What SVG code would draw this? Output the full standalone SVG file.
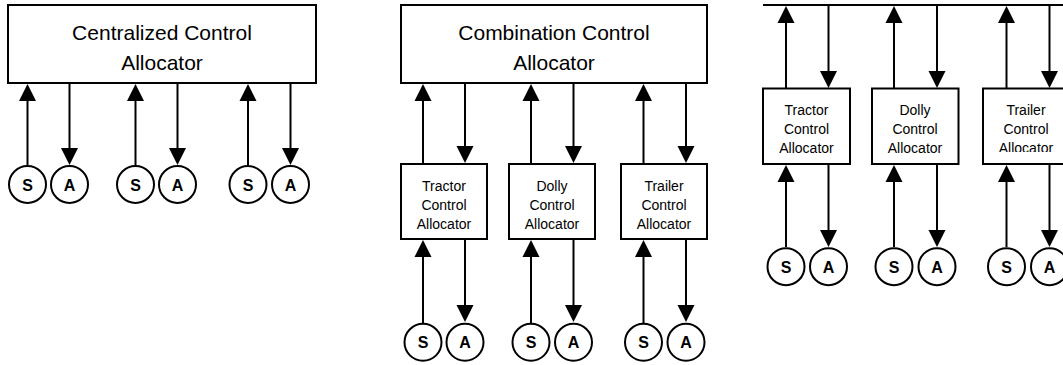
<svg xmlns="http://www.w3.org/2000/svg" width="1063" height="365" viewBox="0 0 1063 365">
  <style>
    .box { fill: #fff; stroke: #000; stroke-width: 2; }
    .io { fill: #fff; stroke: #000; stroke-width: 2; }
    .wire { stroke: #000; stroke-width: 2; fill: none; }
    .head { fill: #000; stroke: none; }
    .big { font-family: "Liberation Sans", Arial, sans-serif; font-size: 21px; text-anchor: middle; fill: #000; }
    .small { font-family: "Liberation Sans", Arial, sans-serif; font-size: 14px; text-anchor: middle; fill: #000; }
    .sa { font-family: "Liberation Sans", Arial, sans-serif; font-size: 16px; font-weight: bold; text-anchor: middle; fill: #000; }
  </style>
  <defs>
    <!-- arrowheads with the tip at the origin -->
    <path id="up" class="head" d="M0,0 L8.5,17 L-8.5,17 Z"/>
    <path id="down" class="head" d="M0,0 L8.5,-17 L-8.5,-17 Z"/>
    <clipPath id="trailerClip">
      <rect x="983" y="88" width="90" height="64"/>
    </clipPath>
  </defs>
  <rect width="1063" height="365" fill="#fff"/>

  <!-- Connectors -->
  <g id="connectors">
    <!-- centralized: sensors up, actuators down -->
    <g class="wire">
      <line x1="27.5" y1="165" x2="27.5" y2="98"/>
      <line x1="69.5" y1="83" x2="69.5" y2="150"/>
      <line x1="135.5" y1="165" x2="135.5" y2="98"/>
      <line x1="177.5" y1="83" x2="177.5" y2="150"/>
      <line x1="248" y1="165" x2="248" y2="98"/>
      <line x1="290.5" y1="83" x2="290.5" y2="150"/>
    </g>
    <use href="#up" x="27.5" y="84"/>
    <use href="#down" x="69.5" y="165"/>
    <use href="#up" x="135.5" y="84"/>
    <use href="#down" x="177.5" y="165"/>
    <use href="#up" x="248" y="84"/>
    <use href="#down" x="290.5" y="165"/>

    <!-- combination: upper level -->
    <g class="wire">
      <line x1="423" y1="164" x2="423" y2="98"/>
      <line x1="465" y1="83" x2="465" y2="150"/>
      <line x1="531" y1="164" x2="531" y2="98"/>
      <line x1="573.5" y1="83" x2="573.5" y2="150"/>
      <line x1="643.5" y1="164" x2="643.5" y2="98"/>
      <line x1="686" y1="83" x2="686" y2="150"/>
    </g>
    <use href="#up" x="423" y="84"/>
    <use href="#down" x="465" y="163"/>
    <use href="#up" x="531" y="84"/>
    <use href="#down" x="573.5" y="163"/>
    <use href="#up" x="643.5" y="84"/>
    <use href="#down" x="686" y="163"/>
    <!-- combination: lower level -->
    <g class="wire">
      <line x1="423" y1="323" x2="423" y2="254"/>
      <line x1="465" y1="239" x2="465" y2="308"/>
      <line x1="531" y1="323" x2="531" y2="254"/>
      <line x1="573.5" y1="239" x2="573.5" y2="308"/>
      <line x1="643.5" y1="323" x2="643.5" y2="254"/>
      <line x1="686" y1="239" x2="686" y2="308"/>
    </g>
    <use href="#up" x="423" y="240"/>
    <use href="#down" x="465" y="322"/>
    <use href="#up" x="531" y="240"/>
    <use href="#down" x="573.5" y="322"/>
    <use href="#up" x="643.5" y="240"/>
    <use href="#down" x="686" y="322"/>

    <!-- distributed: shared bus -->
    <g class="wire">
      <line x1="763" y1="5" x2="1063" y2="5"/>
      <line x1="786" y1="88" x2="786" y2="20"/>
      <line x1="828.5" y1="5" x2="828.5" y2="74"/>
      <line x1="894" y1="88" x2="894" y2="20"/>
      <line x1="937" y1="5" x2="937" y2="74"/>
      <line x1="1006.5" y1="88" x2="1006.5" y2="20"/>
      <line x1="1049.5" y1="5" x2="1049.5" y2="74"/>
    </g>
    <use href="#up" x="786" y="6"/>
    <use href="#down" x="828.5" y="88"/>
    <use href="#up" x="894" y="6"/>
    <use href="#down" x="937" y="88"/>
    <use href="#up" x="1006.5" y="6"/>
    <use href="#down" x="1049.5" y="88"/>
    <!-- distributed: lower level -->
    <g class="wire">
      <line x1="786" y1="247" x2="786" y2="180"/>
      <line x1="828.5" y1="164" x2="828.5" y2="232"/>
      <line x1="894" y1="247" x2="894" y2="180"/>
      <line x1="937" y1="164" x2="937" y2="232"/>
      <line x1="1006.5" y1="247" x2="1006.5" y2="180"/>
      <line x1="1049.5" y1="164" x2="1049.5" y2="232"/>
    </g>
    <use href="#up" x="786" y="165"/>
    <use href="#down" x="828.5" y="247"/>
    <use href="#up" x="894" y="165"/>
    <use href="#down" x="937" y="247"/>
    <use href="#up" x="1006.5" y="165"/>
    <use href="#down" x="1049.5" y="247"/>
  </g>

  <!-- Centralized layout -->
  <g id="centralized-allocator">
    <rect class="box" x="8" y="5" width="308" height="78"/>
    <text class="big" x="162" y="40">Centralized Control</text>
    <text class="big" x="162" y="70">Allocator</text>
  </g>
  <g id="c-s1"><circle class="io" cx="27.5" cy="184.5" r="18.5"/><text class="sa" x="27.5" y="190.5">S</text></g>
  <g id="c-a1"><circle class="io" cx="69.5" cy="184.5" r="18.5"/><text class="sa" x="69.5" y="190.5">A</text></g>
  <g id="c-s2"><circle class="io" cx="135.5" cy="184.5" r="18.5"/><text class="sa" x="135.5" y="190.5">S</text></g>
  <g id="c-a2"><circle class="io" cx="177.5" cy="184.5" r="18.5"/><text class="sa" x="177.5" y="190.5">A</text></g>
  <g id="c-s3"><circle class="io" cx="248" cy="184.5" r="18.5"/><text class="sa" x="248" y="190.5">S</text></g>
  <g id="c-a3"><circle class="io" cx="290.5" cy="184.5" r="18.5"/><text class="sa" x="290.5" y="190.5">A</text></g>

  <!-- Combination layout -->
  <g id="combination-allocator">
    <rect class="box" x="401" y="5" width="306" height="78"/>
    <text class="big" x="554" y="40">Combination Control</text>
    <text class="big" x="554" y="70">Allocator</text>
  </g>
  <g id="m-tractor">
    <rect class="box" x="401" y="164" width="86" height="75"/>
    <text class="small" x="444" y="191">Tractor</text>
    <text class="small" x="444" y="210">Control</text>
    <text class="small" x="444" y="229">Allocator</text>
  </g>
  <g id="m-dolly">
    <rect class="box" x="509" y="164" width="86" height="75"/>
    <text class="small" x="552" y="191">Dolly</text>
    <text class="small" x="552" y="210">Control</text>
    <text class="small" x="552" y="229">Allocator</text>
  </g>
  <g id="m-trailer">
    <rect class="box" x="621" y="164" width="86" height="75"/>
    <text class="small" x="664" y="191">Trailer</text>
    <text class="small" x="664" y="210">Control</text>
    <text class="small" x="664" y="229">Allocator</text>
  </g>
  <g id="m-s1"><circle class="io" cx="423" cy="342.3" r="18.5"/><text class="sa" x="423" y="348.3">S</text></g>
  <g id="m-a1"><circle class="io" cx="465" cy="342.3" r="18.5"/><text class="sa" x="465" y="348.3">A</text></g>
  <g id="m-s2"><circle class="io" cx="531" cy="342.3" r="18.5"/><text class="sa" x="531" y="348.3">S</text></g>
  <g id="m-a2"><circle class="io" cx="573.5" cy="342.3" r="18.5"/><text class="sa" x="573.5" y="348.3">A</text></g>
  <g id="m-s3"><circle class="io" cx="643.5" cy="342.3" r="18.5"/><text class="sa" x="643.5" y="348.3">S</text></g>
  <g id="m-a3"><circle class="io" cx="686" cy="342.3" r="18.5"/><text class="sa" x="686" y="348.3">A</text></g>

  <!-- Distributed layout -->
  <g id="r-tractor">
    <rect class="box" x="763" y="88.5" width="87" height="75.5"/>
    <text class="small" x="806.5" y="115">Tractor</text>
    <text class="small" x="806.5" y="134.3">Control</text>
    <text class="small" x="806.5" y="153.3">Allocator</text>
  </g>
  <g id="r-dolly">
    <rect class="box" x="872" y="88.5" width="86.5" height="75.5"/>
    <text class="small" x="915" y="115">Dolly</text>
    <text class="small" x="915" y="134.3">Control</text>
    <text class="small" x="915" y="153.3">Allocator</text>
  </g>
  <g id="r-trailer">
    <rect class="box" x="983" y="88.5" width="86" height="75.5"/>
    <text class="small" x="1026" y="115">Trailer</text>
    <text class="small" x="1026" y="134.3">Control</text>
    <text class="small" x="1026" y="153.3" clip-path="url(#trailerClip)">Allocator</text>
  </g>
  <g id="r-s1"><circle class="io" cx="786" cy="266.7" r="18.5"/><text class="sa" x="786" y="272.7">S</text></g>
  <g id="r-a1"><circle class="io" cx="828.5" cy="266.7" r="18.5"/><text class="sa" x="828.5" y="272.7">A</text></g>
  <g id="r-s2"><circle class="io" cx="894" cy="266.7" r="18.5"/><text class="sa" x="894" y="272.7">S</text></g>
  <g id="r-a2"><circle class="io" cx="937" cy="266.7" r="18.5"/><text class="sa" x="937" y="272.7">A</text></g>
  <g id="r-s3"><circle class="io" cx="1006.5" cy="266.7" r="18.5"/><text class="sa" x="1006.5" y="272.7">S</text></g>
  <g id="r-a3"><circle class="io" cx="1049.5" cy="266.7" r="18.5"/><text class="sa" x="1049.5" y="272.7">A</text></g>
</svg>
